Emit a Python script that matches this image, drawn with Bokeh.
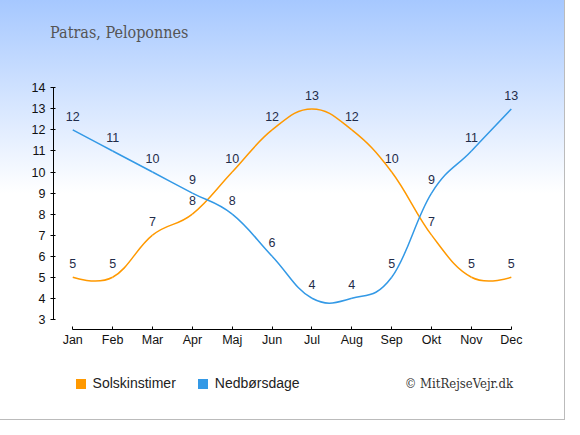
from bokeh.plotting import figure
from bokeh.models import Legend, LegendItem, FixedTicker, ColumnDataSource, Label
from bokeh.core.properties import value
from bokeh.embed import file_html
from bokeh.resources import INLINE

# ---- data ----
months = ["Jan", "Feb", "Mar", "Apr", "Maj", "Jun", "Jul", "Aug", "Sep", "Okt", "Nov", "Dec"]
sun_hours = [5, 5, 7, 8, 10, 12, 13, 12, 10, 7, 5, 5]
rain_days = [12, 11, 10, 9, 8, 6, 4, 4, 5, 9, 11, 13]
y_ticks = [3, 4, 5, 6, 7, 8, 9, 10, 11, 12, 13, 14]
title_text = "Patras, Peloponnes"
sun_name = "Solskinstimer"
rain_name = "Nedbørsdage"
credit = "© MitRejseVejr.dk"

SUN = "#ff9900"
RAIN = "#3399e6"
LABEL_COLOR = "#1f2c4a"
SANS = "Liberation Sans"
SERIF = "'DejaVu Serif Condensed', 'DejaVu Serif', serif"

# ---- layout (canvas pixels) ----
W, H = 564, 419
KX, KY = W / 580, H / 435
FL, FR, FT, FB = 53, 540, 60, 397          # frame edges (frame reaches down to the legend row)
X0_PX, X11_PX = 74.3 * KX, 525.3 * KX      # Jan / Dec tick positions
Y3_PX, Y14_PX = 331 * KY, 90.7 * KY        # y=3 / y=14 positions
XAXIS_PX = 341.5 * KY                      # x axis line
ux = (X11_PX - X0_PX) / 11
uy = (Y3_PX - Y14_PX) / 11
x_range = (-(X0_PX - FL) / ux, 11 + (FR - X11_PX) / ux)
y_range = (3 - (FB - Y3_PX) / uy, 14 + (Y14_PX - FT) / uy)
xaxis_at = 3 - (XAXIS_PX - Y3_PX) / uy


def spline(vals):
    """Highcharts-like spline: cubic bezier segments derived from the data."""
    n = len(vals)
    xs = list(range(n))
    sm = 1.5
    den = sm + 1
    lc = [None] * n
    rc = [None] * n
    for i in range(1, n - 1):
        lx = (sm * xs[i] + xs[i - 1]) / den
        ly = (sm * vals[i] + vals[i - 1]) / den
        rx = (sm * xs[i] + xs[i + 1]) / den
        ry = (sm * vals[i] + vals[i + 1]) / den
        corr = (ry - ly) * (rx - xs[i]) / (rx - lx) + vals[i] - ry
        lc[i] = (lx, ly + corr)
        rc[i] = (rx, ry + corr)
    seg = dict(x0=[], y0=[], x1=[], y1=[], cx0=[], cy0=[], cx1=[], cy1=[])
    for i in range(1, n):
        p0 = (xs[i - 1], vals[i - 1])
        p1 = (xs[i], vals[i])
        c0 = rc[i - 1] if rc[i - 1] else p0
        c1 = lc[i] if lc[i] else p1
        seg["x0"].append(p0[0]); seg["y0"].append(p0[1])
        seg["x1"].append(p1[0]); seg["y1"].append(p1[1])
        seg["cx0"].append(c0[0]); seg["cy0"].append(c0[1])
        seg["cx1"].append(c1[0]); seg["cy1"].append(c1[1])
    return ColumnDataSource(seg)


p = figure(width=W, height=H, output_backend="svg", toolbar_location=None,
           x_range=x_range, y_range=y_range,
           min_border_left=FL, min_border_right=W - FR, min_border_top=FT, min_border_bottom=H - FB)
p.background_fill_color = None
p.border_fill_color = None
p.outline_line_color = None
p.grid.visible = False
p.styles = {
    "background-image": "linear-gradient(to bottom, #a6c8ff 0px, #ffffff 193px)",
    "outline": "1px solid #bbbbbb",
}

# title
p.title.text = title_text
p.title.align = "left"
p.title.offset = 49.6 - FL
p.title.vertical_align = "top"
p.title.standoff = 33
p.title.text_font = SERIF
p.title.text_font_size = "16px"
p.title.text_font_style = "normal"
p.title.text_color = "#555555"

# axes
p.yaxis.ticker = FixedTicker(ticks=y_ticks)
p.yaxis.bounds = (3, 14)
p.yaxis.major_tick_in = 2
p.yaxis.major_tick_out = 3
p.yaxis.major_label_standoff = 5
p.xaxis.ticker = FixedTicker(ticks=list(range(len(months))))
p.xaxis.major_label_overrides = {i: m for i, m in enumerate(months)}
p.xaxis.bounds = (0, len(months) - 1)
p.xaxis.fixed_location = xaxis_at
p.xaxis.major_tick_in = 3
p.xaxis.major_tick_out = 0
p.xaxis.major_label_standoff = 4
for ax in (p.xaxis, p.yaxis):
    ax.minor_tick_line_color = None
    ax.minor_tick_out = 0
    ax.minor_tick_in = 0
    ax.axis_line_color = "#000000"
    ax.major_tick_line_color = "#000000"
    ax.major_label_text_font = SANS
    ax.major_label_text_font_size = "12.5px"
    ax.major_label_text_color = "#111111"

# lines
for vals, col in ((sun_hours, SUN), (rain_days, RAIN)):
    p.bezier(x0="x0", y0="y0", x1="x1", y1="y1", cx0="cx0", cy0="cy0", cx1="cx1", cy1="cy1",
             source=spline(vals), line_color=col, line_width=1.5)

# data labels
xs = list(range(len(months)))
for vals in (sun_hours, rain_days):
    src = ColumnDataSource(dict(x=xs, y=vals, t=[str(v) for v in vals]))
    p.text(x="x", y="y", text="t", source=src, text_align="center", text_baseline="middle",
           y_offset=-13.5, text_font=value(SANS), text_font_size="12.5px", text_color=LABEL_COLOR)

# legend (square swatches, invisible on the plot itself)
sun_sw = p.scatter(x=xs, y=sun_hours, marker="square", size=0, fill_color=SUN, line_color=None)
rain_sw = p.scatter(x=xs, y=rain_days, marker="square", size=0, fill_color=RAIN, line_color=None)
legend_top = 398 * KY - 12.5
legend = Legend(items=[LegendItem(label=sun_name, renderers=[sun_sw]),
                       LegendItem(label=rain_name, renderers=[rain_sw])],
                location=(69.5 * KX - FL, FB - legend_top - 25),
                orientation="horizontal",
                glyph_width=25, glyph_height=25, label_standoff=0, spacing=14,
                padding=0, margin=0, background_fill_alpha=0, border_line_color=None,
                label_text_font=SANS, label_text_font_size="14px", label_text_color="#222222")
p.add_layout(legend)

# credit
p.add_layout(Label(x=527 * KX - FL, y=FB - 402.3 * KY + 4.5, x_units="screen", y_units="screen",
                   text=credit, text_align="right", text_baseline="alphabetic",
                   text_font=SERIF, text_font_size="13px", text_color="#333333"))

open("out.html", "w").write(file_html(p, INLINE))
